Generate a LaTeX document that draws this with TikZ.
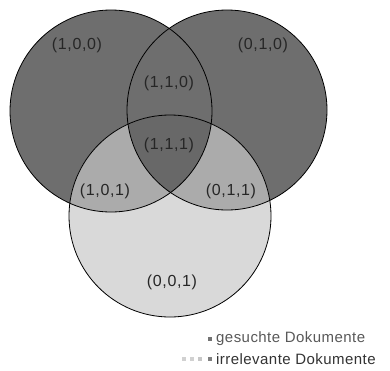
\documentclass[tikz,border=0pt]{standalone}
\usepackage{fontspec}
\setmainfont{Liberation Sans}
\begin{document}
\begin{tikzpicture}[x=1pt,y=-1pt,
  lbl/.style={font=\fontsize{16}{18}\selectfont\addfontfeature{LetterSpace=4}, text=black!85, inner sep=0pt},
  leg/.style={font=\fontsize{15}{17}\selectfont\addfontfeature{LetterSpace=3}, text=black!65, inner sep=0pt, anchor=west},
  sq/.style={inner sep=0pt, minimum size=4pt}]
\definecolor{darkg}{HTML}{6E6E6E}
\definecolor{midg}{HTML}{ABABAB}
\definecolor{lightg}{HTML}{D9D9D9}
\definecolor{coreg}{HTML}{686868}
\useasboundingbox (0,0) rectangle (390,370);
\fill[white] (0,0) rectangle (390,370);
\coordinate (ca) at (111,111);
\coordinate (cb) at (227,110);
\coordinate (cc) at (170,216);
% fills
\fill[darkg] (ca) circle[radius=101];
\fill[darkg] (cb) circle[radius=100];
\fill[lightg] (cc) circle[radius=101];
\begin{scope}
  \clip (cc) circle[radius=101];
  \fill[midg] (ca) circle[radius=101];
  \fill[midg] (cb) circle[radius=100];
  \clip (ca) circle[radius=101];
  \fill[coreg] (cb) circle[radius=100];
\end{scope}
% outlines
\draw[black, line width=0.8pt] (ca) circle[radius=101];
\draw[black, line width=0.8pt] (cb) circle[radius=100];
\draw[black, line width=0.8pt] (cc) circle[radius=101];
% labels
\node[lbl] (l100) at (77,45) {(1,0,0)};
\node[lbl] (l010) at (263,45) {(0,1,0)};
\node[lbl] (l110) at (169,83) {(1,1,0)};
\node[lbl] (l111) at (169,145) {(1,1,1)};
\node[lbl] (l101) at (105,191) {(1,0,1)};
\node[lbl] (l011) at (231,191) {(0,1,1)};
\node[lbl] (l001) at (172,282) {(0,0,1)};
% legend
\node[sq, fill=black!55] (s1) at (210,339) {};
\node[leg] (t1) at (216,339) {gesuchte Dokumente};
\node[sq, fill=black!18] (s2a) at (184,359) {};
\node[sq, fill=black!18] (s2b) at (192,359) {};
\node[sq, fill=black!22] (s2c) at (200,359) {};
\node[sq, fill=black!50] (s2d) at (210,359) {};
\node[leg, text=black!80] (t2) at (216,359) {irrelevante Dokumente};
\end{tikzpicture}
\end{document}
